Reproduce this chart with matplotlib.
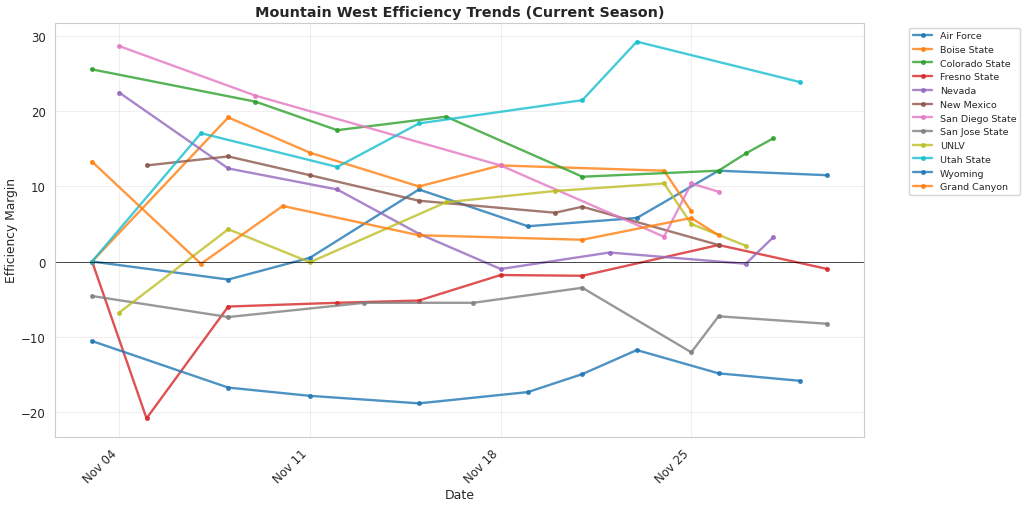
import matplotlib
matplotlib.use("Agg")
import matplotlib.pyplot as plt
import matplotlib.dates as mdates
import seaborn as sns
import pandas as pd

sns.set_style("whitegrid")
plt.rcParams['font.family'] = ['DejaVu Sans']

teams = ["Air Force", "Boise State", "Colorado State", "Fresno State", "Nevada",
         "New Mexico", "San Diego State", "San Jose State", "UNLV", "Utah State",
         "Wyoming", "Grand Canyon"]

air_force_days = [3, 8, 11, 15, 19, 23, 26, 30]
air_force_vals = [0.0, -2.4, 0.5, 9.6, 4.7, 5.8, 12.1, 11.5]

boise_days = [3, 8, 11, 15, 18, 24, 25]
boise_vals = [0.0, 19.2, 14.5, 10.0, 12.8, 12.1, 6.7]

colorado_days = [3, 9, 12, 16, 21, 26, 27, 28]
colorado_vals = [25.6, 21.3, 17.5, 19.3, 11.3, 12.1, 14.4, 16.4]

fresno_days = [3, 5, 8, 12, 15, 18, 21, 26, 30]
fresno_vals = [0.0, -20.9, -6.0, -5.5, -5.2, -1.8, -1.9, 2.2, -1.0]

nevada_days = [4, 8, 12, 15, 18, 22, 27, 28]
nevada_vals = [22.5, 12.4, 9.6, 3.7, -1.0, 1.2, -0.3, 3.2]

new_mexico_days = [5, 8, 11, 15, 20, 21, 26]
new_mexico_vals = [12.8, 14.0, 11.5, 8.1, 6.5, 7.3, 2.2]

sdsu_days = [4, 9, 18, 24, 25, 26]
sdsu_vals = [28.7, 22.1, 12.8, 3.3, 10.4, 9.3]

sjsu_days = [3, 8, 13, 17, 21, 25, 26, 30]
sjsu_vals = [-4.6, -7.4, -5.5, -5.5, -3.5, -12.1, -7.3, -8.3]

unlv_days = [4, 8, 11, 16, 20, 24, 25, 27]
unlv_vals = [-6.8, 4.3, -0.1, 7.9, 9.4, 10.4, 5.0, 2.1]

utah_days = [3, 7, 12, 15, 21, 23, 29]
utah_vals = [0.0, 17.1, 12.6, 18.4, 21.5, 29.3, 23.9]

wyoming_days = [3, 8, 11, 15, 19, 21, 23, 26, 29]
wyoming_vals = [-10.6, -16.8, -17.9, -18.9, -17.4, -15.0, -11.8, -14.9, -15.9]

grand_canyon_days = [3, 7, 10, 15, 21, 25, 26]
grand_canyon_vals = [13.3, -0.3, 7.4, 3.5, 2.9, 5.8, 3.5]

series = [
    (air_force_days, air_force_vals),
    (boise_days, boise_vals),
    (colorado_days, colorado_vals),
    (fresno_days, fresno_vals),
    (nevada_days, nevada_vals),
    (new_mexico_days, new_mexico_vals),
    (sdsu_days, sdsu_vals),
    (sjsu_days, sjsu_vals),
    (unlv_days, unlv_vals),
    (utah_days, utah_vals),
    (wyoming_days, wyoming_vals),
    (grand_canyon_days, grand_canyon_vals),
]

colors = plt.rcParams['axes.prop_cycle'].by_key()['color']

fig, ax = plt.subplots(figsize=(10.24, 5.06), dpi=100)
for i, (team, (days, vals)) in enumerate(zip(teams, series)):
    dates = pd.to_datetime([f"2024-11-{d:02d}" for d in days])
    ax.plot(dates, vals, marker='o', markersize=2.6, linewidth=1.7, alpha=0.8,
            color=colors[i % 10], label=team)

ax.axhline(0, color='black', linewidth=0.7, alpha=0.7)
ax.set_title("Mountain West Efficiency Trends (Current Season)", fontsize=10.4,
             fontweight='bold', pad=5)
ax.set_xlabel("Date", fontsize=9, labelpad=2)
ax.set_ylabel("Efficiency Margin", fontsize=8.8, labelpad=2)
ax.xaxis.set_major_locator(mdates.WeekdayLocator(byweekday=mdates.MO))
ax.xaxis.set_major_formatter(mdates.DateFormatter("%b %d"))
plt.setp(ax.get_xticklabels(), rotation=45, ha='right')
ax.tick_params(labelsize=8.5)
ax.grid(True, alpha=0.3)
ax.legend(bbox_to_anchor=(1.05, 1), loc='upper left', fontsize=6.8)
fig.subplots_adjust(left=0.054, right=0.844, top=0.953, bottom=0.134)
fig.savefig("out.png", dpi=100)
